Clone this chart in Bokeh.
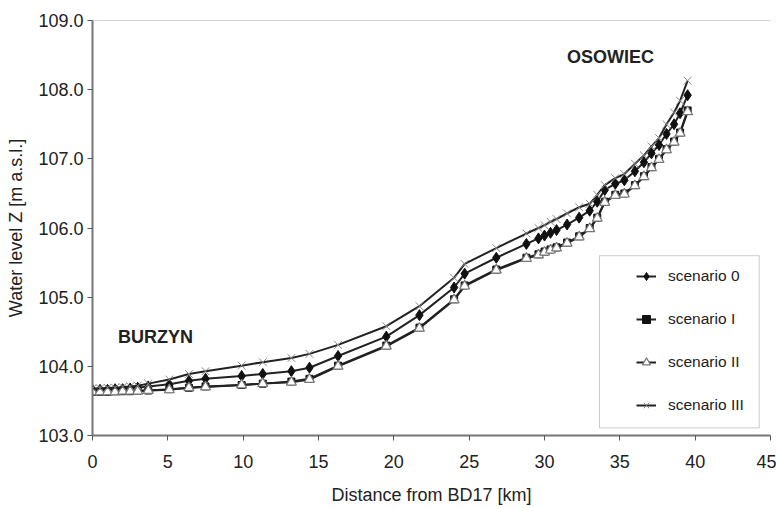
from bokeh.plotting import figure
from bokeh.models import (Range1d, FixedTicker, NumeralTickFormatter, Legend, LegendItem,
                          Span, BoxAnnotation, Label)
from bokeh.embed import file_html
from bokeh.resources import INLINE

distance_km = [0, 0.5, 1.0, 1.5, 2.0, 2.5, 3.0, 3.7, 5.1, 6.4, 7.5, 9.9, 11.3, 13.2, 14.4,
               16.3, 19.5, 21.7, 24.0, 24.7, 26.8, 28.8, 29.6, 30.0, 30.4, 30.8, 31.5, 32.3,
               33.0, 33.5, 34.0, 34.7, 35.3, 36.0, 36.6, 37.1, 37.6, 38.1, 38.6, 39.0, 39.5]

scenario_0 = [103.66, 103.66, 103.66, 103.67, 103.67, 103.68, 103.69, 103.71, 103.74, 103.79,
              103.82, 103.86, 103.89, 103.93, 103.98, 104.15, 104.43, 104.74, 105.14, 105.34,
              105.57, 105.77, 105.85, 105.89, 105.93, 105.97, 106.05, 106.15, 106.25, 106.38,
              106.55, 106.64, 106.69, 106.82, 106.95, 107.08, 107.20, 107.36, 107.50, 107.66,
              107.92]

scenario_I = [103.63, 103.63, 103.63, 103.64, 103.64, 103.64, 103.65, 103.65, 103.67, 103.69,
              103.71, 103.73, 103.75, 103.78, 103.82, 104.01, 104.30, 104.56, 104.97, 105.17,
              105.40, 105.57, 105.62, 105.66, 105.69, 105.72, 105.79, 105.88, 106.00, 106.15,
              106.38, 106.48, 106.50, 106.62, 106.75, 106.88, 107.00, 107.14, 107.25, 107.38,
              107.70]

scenario_II = [103.63, 103.63, 103.63, 103.63, 103.64, 103.64, 103.64, 103.65, 103.66, 103.69,
               103.70, 103.73, 103.75, 103.77, 103.81, 104.00, 104.29, 104.55, 104.96, 105.16,
               105.39, 105.56, 105.61, 105.65, 105.68, 105.71, 105.78, 105.87, 105.99, 106.14,
               106.37, 106.47, 106.49, 106.61, 106.74, 106.87, 106.99, 107.13, 107.24, 107.37,
               107.68]

scenario_III = [103.68, 103.68, 103.69, 103.69, 103.70, 103.71, 103.72, 103.75, 103.81, 103.89,
                103.93, 104.01, 104.06, 104.12, 104.18, 104.31, 104.58, 104.87, 105.28, 105.48,
                105.71, 105.92, 106.00, 106.04, 106.09, 106.13, 106.21, 106.30, 106.35, 106.48,
                106.62, 106.72, 106.78, 106.93, 107.05, 107.18, 107.30, 107.50, 107.67, 107.84,
                108.13]

x_ticks = [0, 5, 10, 15, 20, 25, 30, 35, 40, 45]
y_ticks = [103, 104, 105, 106, 107, 108, 109]
series_names = ["scenario 0", "scenario I", "scenario II", "scenario III"]

FONT = "Liberation Sans"

p = figure(width=776, height=507, x_range=Range1d(0, 45), y_range=Range1d(103, 109),
           output_backend="svg", toolbar_location=None,
           min_border_left=92, min_border_right=6, min_border_top=20, min_border_bottom=67)

p.xgrid.visible = False
p.ygrid.visible = False
p.outline_line_color = None
p.background_fill_color = "white"
p.border_fill_color = "white"

p.xaxis.ticker = FixedTicker(ticks=x_ticks)
p.yaxis.ticker = FixedTicker(ticks=y_ticks)
p.yaxis.formatter = NumeralTickFormatter(format="0.0")
for ax in (p.xaxis[0], p.yaxis[0]):
    ax.major_label_text_font = FONT
    ax.major_label_text_font_size = "18px"
    ax.major_label_text_color = "#222222"
    ax.axis_label_text_font = FONT
    ax.axis_label_text_font_size = "18px"
    ax.axis_label_text_font_style = "normal"
    ax.axis_label_text_color = "#222222"
    ax.axis_line_color = "#777777"
    ax.axis_line_width = 2
    ax.major_tick_line_color = "#555555"
    ax.major_tick_out = 5
    ax.major_tick_in = 0
    ax.minor_tick_line_color = None
p.xaxis.axis_label = "Distance from BD17 [km]"
p.yaxis.axis_label = "Water level Z [m a.s.l.]"
p.xaxis.major_label_standoff = 14
p.xaxis.axis_label_standoff = 14
p.yaxis.major_label_standoff = 4
p.yaxis.axis_label_standoff = 9

p.add_layout(Span(location=109, dimension="width", line_color="#aaaaaa", line_width=1))

line_col = "#222222"
l0 = p.line(distance_km, scenario_0, line_color=line_col, line_width=2)
s0 = p.scatter(distance_km, scenario_0, marker="diamond", size=11, fill_color="#111111",
               line_color="#111111")
l1 = p.line(distance_km, scenario_I, line_color=line_col, line_width=2)
s1 = p.scatter(distance_km, scenario_I, marker="square", size=7, fill_color="#111111",
               line_color="#111111")
l2 = p.line(distance_km, scenario_II, line_color=line_col, line_width=2)
s2 = p.scatter(distance_km, scenario_II, marker="triangle", size=10, fill_color="white",
               line_color="#777777", line_width=1.2)
l3 = p.line(distance_km, scenario_III, line_color=line_col, line_width=2)
s3 = p.scatter(distance_km, scenario_III, marker="x", size=11, line_color="#888888",
               line_width=1)

items = [LegendItem(label=series_names[0], renderers=[l0, s0]),
         LegendItem(label=series_names[1], renderers=[l1, s1]),
         LegendItem(label=series_names[2], renderers=[l2, s2]),
         LegendItem(label=series_names[3], renderers=[l3, s3])]
legend = Legend(items=items, location=(532, 8), border_line_alpha=0, background_fill_alpha=0,
                padding=12, spacing=23, glyph_height=20, glyph_width=20, label_height=20,
                label_standoff=12, label_text_font=FONT, label_text_font_size="15.5px",
                label_text_color="#222222", margin=0)
p.add_layout(legend)

p.add_layout(BoxAnnotation(left=33.65, right=44.25, bottom=103.11, top=105.6,
                           fill_alpha=0, line_color="#555555", line_width=1))

p.add_layout(Label(x=1.7, y=104.43, text="BURZYN", text_font=FONT, text_font_size="18px",
                   text_font_style="bold", text_baseline="middle", text_color="#222222"))
p.add_layout(Label(x=31.5, y=108.47, text="OSOWIEC", text_font=FONT, text_font_size="18px",
                   text_font_style="bold", text_baseline="middle", text_color="#222222"))

open("out.html", "w").write(file_html(p, INLINE))
